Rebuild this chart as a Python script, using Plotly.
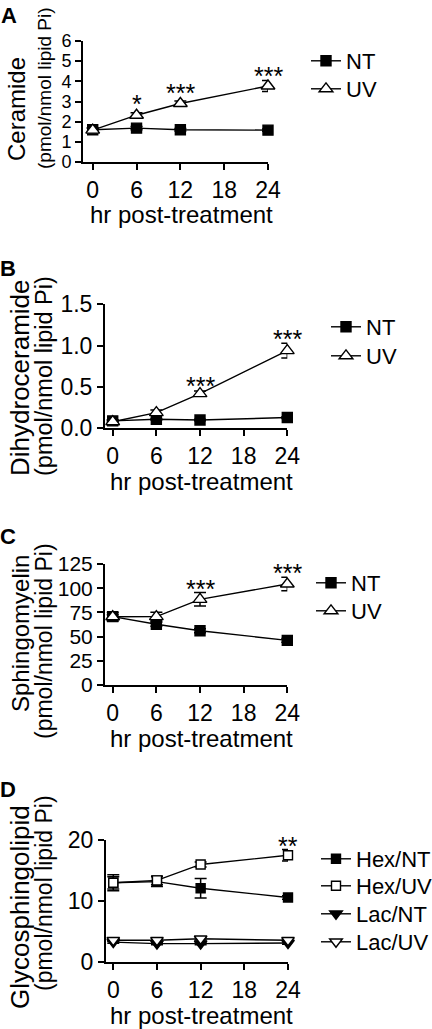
import plotly.graph_objects as go

W, H = 432, 1029
FONT = "Liberation Sans, Arial, sans-serif"

hours = [0, 6, 12, 24]
x_ticks = [0, 6, 12, 18, 24]

# Panel A - Ceramide
cer_nt = [1.60, 1.68, 1.60, 1.58]
cer_nt_err = [0.08, 0.08, 0.06, 0.06]
cer_uv = [1.58, 2.32, 2.90, 3.77]
cer_uv_err = [0.10, 0.12, 0.12, 0.27]
cer_stars_x = [6, 12, 24]
cer_stars_y = [3.07, 3.60, 4.48]
cer_stars_t = ["*", "***", "***"]

# Panel B - Dihydroceramide
dh_nt = [0.09, 0.11, 0.10, 0.13]
dh_nt_err = [0.01, 0.01, 0.01, 0.01]
dh_uv = [0.08, 0.19, 0.42, 0.94]
dh_uv_err = [0.02, 0.03, 0.03, 0.09]
dh_stars_x = [12, 24]
dh_stars_y = [0.56, 1.13]
dh_stars_t = ["***", "***"]

# Panel C - Sphingomyelin
sm_nt = [70.6, 62.7, 56.1, 46.1]
sm_nt_err = [2.0, 2.0, 2.0, 2.0]
sm_uv = [70.5, 70.6, 88.5, 104.3]
sm_uv_err = [4.5, 4.5, 7.0, 7.0]
sm_stars_x = [12, 24]
sm_stars_y = [103.0, 119.5]
sm_stars_t = ["***", "***"]

# Panel D - Glycosphingolipid
hex_nt = [13.0, 13.2, 12.1, 10.6]
hex_nt_err = [1.0, 0.8, 1.6, 0.3]
hex_uv = [13.0, 13.4, 16.0, 17.5]
hex_uv_err = [1.3, 0.7, 0.4, 0.95]
lac_nt = [3.3, 3.05, 3.05, 3.15]
lac_nt_err = [0.2, 0.2, 0.2, 0.2]
lac_uv = [3.6, 3.6, 3.85, 3.6]
lac_uv_err = [0.2, 0.2, 0.2, 0.2]
gsl_stars_x = [24]
gsl_stars_y = [19.7]
gsl_stars_t = ["**"]

# layout geometry (pixels)
panels = [
    # (axis suffix, x_left_px, x24_px, x_range_min, y_bottom_px, y_top_px, y_max, yticks, fmt, ytickfont)
    ("", 83, 268, -1.33, 162, 41, 6, [0, 1, 2, 3, 4, 5, 6], None, 18),
    ("2", 105, 287.3, -1.06, 428.3, 304.3, 1.5, [0, 0.5, 1.0, 1.5], ".1f", 23),
    ("3", 105, 287.3, -1.06, 685, 564, 125, [0, 25, 50, 75, 100, 125], None, 21),
    ("4", 106, 288, -1.0, 962.3, 840, 20, [0, 10, 20], None, 23),
]

fig = go.Figure()

# legend item positions: (text-left px, center-y px)
legend_pos = {}


def add_series(idx, name, y, err, symbol, filled, size, legend, lx, ly):
    sfx = panels[idx][0]
    fig.add_trace(go.Scatter(
        x=hours, y=y, name=name, mode="lines+markers",
        xaxis="x" + sfx, yaxis="y" + sfx,
        line=dict(color="black", width=1.4),
        marker=dict(symbol=symbol, size=size,
                    color="black" if filled else "white",
                    line=dict(color="black", width=1.4)),
        error_y=dict(type="data", array=err, color="black", thickness=1.5, width=6),
        cliponaxis=False, legend=legend,
    ))
    legend_pos[legend] = (lx, ly)


add_series(0, "NT", cer_nt, cer_nt_err, "square", True, 10, "legend", 346, 61)
add_series(0, "UV", cer_uv, cer_uv_err, "triangle-up", False, 12, "legend2", 346, 89)
add_series(1, "NT", dh_nt, dh_nt_err, "square", True, 10, "legend3", 366, 327)
add_series(1, "UV", dh_uv, dh_uv_err, "triangle-up", False, 12, "legend4", 366, 356)
add_series(2, "NT", sm_nt, sm_nt_err, "square", True, 10, "legend5", 351, 583)
add_series(2, "UV", sm_uv, sm_uv_err, "triangle-up", False, 12, "legend6", 351, 611)
add_series(3, "Hex/NT", hex_nt, hex_nt_err, "square", True, 9, "legend7", 356, 859)
add_series(3, "Hex/UV", hex_uv, hex_uv_err, "square", False, 9, "legend8", 356, 886)
add_series(3, "Lac/NT", lac_nt, lac_nt_err, "triangle-down", True, 11, "legend9", 356, 914)
add_series(3, "Lac/UV", lac_uv, lac_uv_err, "triangle-down", False, 11, "legend10", 356, 942)

layout = dict(
    width=W, height=H, margin=dict(l=0, r=0, t=0, b=0, autoexpand=False),
    paper_bgcolor="white", plot_bgcolor="white",
    font=dict(family=FONT, color="black", size=22),
    showlegend=True,
)

axis_common = dict(showline=True, linewidth=2, linecolor="black", ticks="outside",
                   ticklen=6, tickwidth=2, tickcolor="black", showgrid=False,
                   zeroline=False, automargin=False)

annotations = []
for (sfx, xl, x24, xmin, yb, yt, ymax, yticks, fmt, ytf) in panels:
    xa = dict(axis_common, domain=[xl / W, x24 / W], range=[xmin, 24],
              tickvals=x_ticks, anchor="y" + sfx,
              tickfont=dict(size=23, family=FONT, color="black"))
    ya = dict(axis_common, domain=[1 - yb / H, 1 - yt / H], range=[0, ymax],
              tickvals=yticks, anchor="x" + sfx,
              tickfont=dict(size=ytf, family=FONT, color="black"))
    if fmt:
        ya["tickformat"] = fmt
    layout["xaxis" + sfx] = xa
    layout["yaxis" + sfx] = ya
    # x-axis title
    x0px = xl + (0 - xmin) * (x24 - xl) / (24 - xmin)
    annotations.append(dict(text="hr post-treatment", xref="paper", yref="paper",
                            x=((x0px + x24) / 2 + 1) / W, y=1 - (yb + 53) / H,
                            xanchor="center", yanchor="middle", showarrow=False,
                            font=dict(size=24, family=FONT, color="black")))

# y titles (two lines each)
ytitles = [
    ("Ceramide", 16, 109, 24, "(pmol/nmol lipid Pi)", 44, 88, 19),
    ("Dihydroceramide", 20, 378, 26, "(pmol/nmol lipid Pi)", 44, 376, 23.5),
    ("Sphingomyelin", 20, 634, 24, "(pmol/nmol lipid Pi)", 44, 641, 23),
    ("Glycosphingolipid", 20, 907, 26, "(pmol/nmol lipid Pi)", 44, 893, 23),
]
for (t1, x1, y1, s1, t2, x2, y2, s2) in ytitles:
    for (t, xp, yp, s) in ((t1, x1, y1, s1), (t2, x2, y2, s2)):
        annotations.append(dict(text=t, xref="paper", yref="paper", x=xp / W, y=1 - yp / H,
                                xanchor="center", yanchor="middle", textangle=-90,
                                showarrow=False, font=dict(size=s, family=FONT, color="black")))

# panel letters
for (lab, xp, yp) in (("A", 9, 15), ("B", 8, 268), ("C", 8, 536), ("D", 8, 789)):
    annotations.append(dict(text="<b>%s</b>" % lab, xref="paper", yref="paper",
                            x=xp / W, y=1 - yp / H, xanchor="center", yanchor="middle",
                            showarrow=False, font=dict(size=22, family=FONT, color="black")))

# significance stars
for sfx, xs, ys, ts in (("", cer_stars_x, cer_stars_y, cer_stars_t),
                        ("2", dh_stars_x, dh_stars_y, dh_stars_t),
                        ("3", sm_stars_x, sm_stars_y, sm_stars_t),
                        ("4", gsl_stars_x, gsl_stars_y, gsl_stars_t)):
    for xv, yv, tv in zip(xs, ys, ts):
        annotations.append(dict(text=tv, xref="x" + sfx, yref="y" + sfx, x=xv, y=yv,
                                xanchor="center", yanchor="middle", yshift=-4,
                                showarrow=False, font=dict(size=25, family=FONT, color="black")))

layout["annotations"] = annotations

leg_common = dict(bgcolor="rgba(0,0,0,0)", borderwidth=0, xanchor="left", yanchor="middle",
                  font=dict(size=22, family=FONT, color="black"), tracegroupgap=0,
                  itemwidth=30)
for key, (lx, ly) in legend_pos.items():
    layout[key] = dict(leg_common, x=(lx - 40) / W, y=1 - ly / H)

fig.update_layout(**layout)
fig.write_html(
    "out.html",
    config={"displayModeBar": False},
    post_script=("document.documentElement.style.margin='0';"
                 "document.body.style.margin='0';"
                 "document.body.style.padding='0';"
                 "document.body.style.overflow='hidden';"
                 "document.documentElement.style.overflow='hidden';"),
)
